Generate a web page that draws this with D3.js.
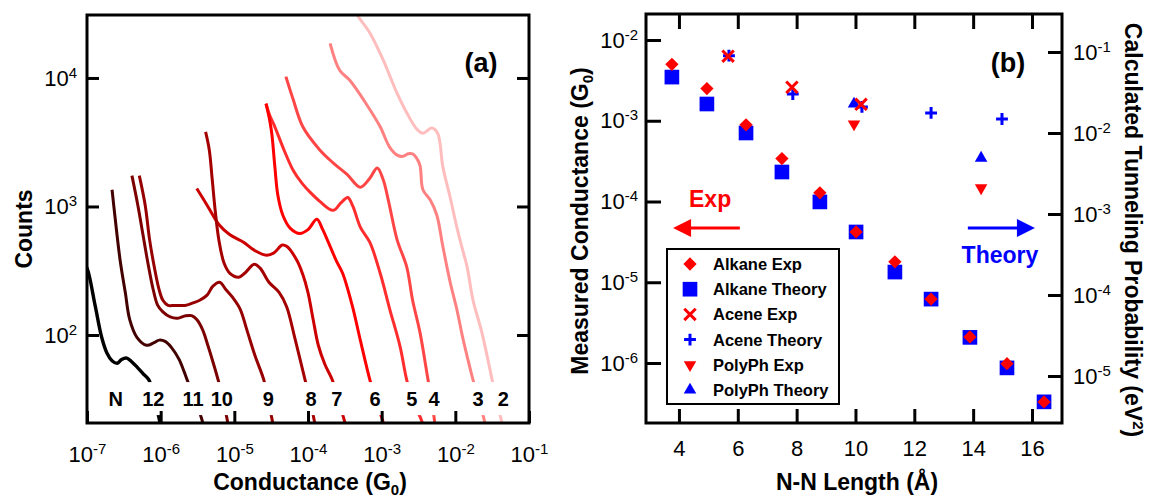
<!DOCTYPE html>
<html><head><meta charset="utf-8">
<script src="https://cdn.jsdelivr.net/npm/d3@7"></script>
<style>
body{margin:0;background:#fff;}
svg text{font-family:"Liberation Sans",Arial,Helvetica,sans-serif;}
</style></head><body>
<svg id="chart" width="1153" height="498"></svg>
<script>
// ---------- Panel (a): conductance histograms, points are [log10(G/G0), log10(counts)] ----------
const C12 = [[-7.05,2.56],[-7.00,2.52],[-6.89,2.23],[-6.80,1.98],[-6.73,1.86],[-6.66,1.80],[-6.59,1.78],[-6.53,1.81],[-6.46,1.82],[-6.39,1.79],[-6.32,1.75],[-6.24,1.70],[-6.16,1.65],[-6.08,1.49],[-6.01,1.32],[-5.97,1.18]];
const C11 = [[-6.66,3.13],[-6.62,2.92],[-6.55,2.58],[-6.48,2.33],[-6.42,2.12],[-6.32,1.98],[-6.19,1.92],[-6.09,1.94],[-6.02,1.96],[-5.94,1.95],[-5.85,1.90],[-5.75,1.81],[-5.64,1.65],[-5.53,1.49],[-5.43,1.32],[-5.39,1.18]];
const C10 = [[-6.39,3.24],[-6.31,3.01],[-6.24,2.78],[-6.17,2.55],[-6.10,2.35],[-6.04,2.23],[-5.97,2.18],[-5.87,2.14],[-5.77,2.13],[-5.66,2.15],[-5.58,2.15],[-5.51,2.12],[-5.43,2.04],[-5.36,1.92],[-5.29,1.79],[-5.22,1.65],[-5.15,1.49],[-5.09,1.32],[-5.05,1.18]];
const C9  = [[-6.29,3.24],[-6.21,3.01],[-6.15,2.74],[-6.08,2.51],[-6.02,2.35],[-5.97,2.27],[-5.90,2.23],[-5.81,2.23],[-5.67,2.23],[-5.56,2.25],[-5.47,2.27],[-5.37,2.31],[-5.29,2.38],[-5.20,2.41],[-5.11,2.35],[-5.02,2.29],[-4.92,2.20],[-4.83,2.04],[-4.72,1.84],[-4.60,1.65],[-4.54,1.49],[-4.48,1.32],[-4.43,1.18]];
const C8  = [[-5.39,3.58],[-5.34,3.44],[-5.30,3.21],[-5.26,2.97],[-5.21,2.74],[-5.14,2.56],[-5.06,2.48],[-4.94,2.45],[-4.86,2.48],[-4.73,2.55],[-4.65,2.52],[-4.53,2.41],[-4.39,2.33],[-4.29,2.22],[-4.18,1.98],[-4.04,1.65],[-3.97,1.49],[-3.91,1.32],[-3.86,1.18]];
const C7  = [[-5.51,3.14],[-5.37,3.01],[-5.21,2.86],[-5.06,2.78],[-4.87,2.72],[-4.73,2.66],[-4.56,2.62],[-4.46,2.64],[-4.35,2.70],[-4.29,2.69],[-4.15,2.58],[-4.07,2.47],[-4.00,2.33],[-3.93,2.12],[-3.86,1.92],[-3.77,1.77],[-3.67,1.65],[-3.59,1.49],[-3.50,1.32],[-3.46,1.18]];
const C6  = [[-4.57,3.80],[-4.52,3.67],[-4.49,3.56],[-4.45,3.31],[-4.41,3.09],[-4.34,2.93],[-4.24,2.83],[-4.11,2.79],[-4.00,2.82],[-3.88,2.90],[-3.80,2.82],[-3.70,2.69],[-3.61,2.57],[-3.53,2.48],[-3.40,2.23],[-3.29,1.96],[-3.16,1.65],[-3.08,1.49],[-2.98,1.32],[-2.94,1.18]];
const C5  = [[-4.57,3.80],[-4.52,3.71],[-4.45,3.62],[-4.34,3.46],[-4.20,3.28],[-4.08,3.18],[-3.97,3.11],[-3.84,3.04],[-3.66,2.97],[-3.55,3.03],[-3.46,3.07],[-3.39,3.00],[-3.29,2.84],[-3.16,2.72],[-3.02,2.48],[-2.89,2.20],[-2.75,1.91],[-2.66,1.65],[-2.58,1.49],[-2.45,1.32],[-2.41,1.18]];
const C4  = [[-4.30,4.01],[-4.20,3.83],[-4.07,3.62],[-3.84,3.44],[-3.66,3.34],[-3.47,3.25],[-3.29,3.15],[-3.16,3.22],[-3.06,3.30],[-2.98,3.21],[-2.91,3.05],[-2.79,2.74],[-2.66,2.53],[-2.58,2.27],[-2.48,2.02],[-2.37,1.65],[-2.32,1.49],[-2.28,1.32],[-2.25,1.18]];
const C3  = [[-3.70,4.27],[-3.57,4.06],[-3.43,3.98],[-3.20,3.79],[-3.02,3.62],[-2.89,3.46],[-2.79,3.40],[-2.71,3.39],[-2.64,3.41],[-2.58,3.41],[-2.53,3.38],[-2.48,3.32],[-2.44,3.13],[-2.34,3.05],[-2.25,2.93],[-2.17,2.69],[-2.07,2.41],[-1.98,2.20],[-1.90,1.98],[-1.83,1.81],[-1.76,1.65],[-1.68,1.49],[-1.60,1.32],[-1.56,1.18]];
const C2  = [[-3.38,4.55],[-3.32,4.48],[-3.16,4.35],[-2.98,4.14],[-2.79,3.88],[-2.66,3.73],[-2.52,3.60],[-2.44,3.57],[-2.32,3.61],[-2.24,3.57],[-2.17,3.31],[-2.07,3.07],[-1.98,2.84],[-1.90,2.66],[-1.84,2.53],[-1.76,2.27],[-1.64,2.02],[-1.50,1.65],[-1.44,1.49],[-1.37,1.32],[-1.33,1.18]];
const curveColors = ["#000000","#420000","#7c0000","#960000","#a50000","#cc0000","#ff0000","#ff2d2d","#ff4646","#ff8080","#ffbdbd"];
const curveLabels = ["N","12","11","10","9","8","7","6","5","4","3","2"];
const labelLogG   = [-6.61,-6.10,-5.56,-5.17,-4.54,-3.96,-3.61,-3.09,-2.59,-2.29,-1.69,-1.35];
const labelCounts = 31.8;
const xTicksA = [1e-7,1e-6,1e-5,1e-4,1e-3,1e-2,1e-1];
const yTicksA = [1e2,1e3,1e4];

// ---------- Panel (b) ----------
const alkaneLen    = [3.76,4.95,6.28,7.50,8.79,10.02,11.34,12.57,13.89,15.15,16.41];
const alkaneExp    = [5.0e-3,2.5e-3,8.9e-4,3.4e-4,1.28e-4,4.2e-5,1.79e-5,6.2e-6,2.1e-6,9.8e-7,3.3e-7];
const alkaneTheory = [4.9e-2,2.28e-2,1.0e-2,3.3e-3,1.41e-3,6.0e-4,1.92e-4,8.9e-5,3.0e-5,1.26e-5,4.8e-6];
const aceneExpLen  = [5.67,7.84,10.19];
const aceneExp     = [6.3e-3,2.6e-3,1.6e-3];
const aceneThLen   = [5.70,7.87,10.22,12.57,14.98];
const aceneTheory  = [9.0e-2,3.03e-2,2.1e-2,1.77e-2,1.49e-2];
const polyLen      = [9.95,14.27];
const polyExp      = [9.1e-4,1.47e-4];
const polyTheory   = [2.28e-2,4.9e-3];
const xTicksB = [4,6,8,10,12,14,16];
const yTicksBL = [1e-2,1e-3,1e-4,1e-5,1e-6];
const yTicksBR = [1e-1,1e-2,1e-3,1e-4,1e-5];
const legendLabels = ["Alkane Exp","Alkane Theory","Acene Exp","Acene Theory","PolyPh Exp","PolyPh Theory"];

const RED="#ff0000", BLUE="#0000ff";
const FONT='"Liberation Sans",Arial,Helvetica,sans-serif';
const TICKFS=22;
const svg = d3.select("#chart");

function sci(g, size){
  g.attr("font-size",size).attr("font-family",FONT);
  g.selectAll(".tick text").each(function(d){
    const t=d3.select(this), e=Math.round(Math.log10(d));
    t.text(null).attr("fill","#000");
    t.append("tspan").text("10");
    t.append("tspan").attr("dy",-8).attr("font-size",15).text(e);
  });
}
function styleTicks(g){
  g.select(".domain").remove();
  g.selectAll(".tick line").attr("stroke","#000").attr("stroke-width",3);
}

// ===== Panel A =====
const A={l:87,r:529,t:15,b:423};
const xA=d3.scaleLog().domain([1e-7,1e-1]).range([A.l,A.r]);
const yA=d3.scaleLog().domain([Math.pow(10,1.315),Math.pow(10,4.49)]).range([A.b,A.t]);
svg.append("defs").append("clipPath").attr("id","clipA").append("rect")
  .attr("x",A.l).attr("y",A.t).attr("width",A.r-A.l).attr("height",A.b-A.t);
const gA=svg.append("g");
const curves=[C12,C11,C10,C9,C8,C7,C6,C5,C4,C3,C2];
const lineA=d3.line().x(d=>xA(Math.pow(10,d[0]))).y(d=>yA(Math.pow(10,d[1]))).curve(d3.curveCatmullRom.alpha(0.5));
gA.append("g").attr("clip-path","url(#clipA)")
  .selectAll("path").data(curves.map((c,i)=>({c,i})).reverse()).join("path")
  .attr("d",d=>lineA(d.c)).attr("fill","none")
  .attr("stroke",d=>curveColors[d.i]).attr("stroke-width",d=>d.i===0?3.4:3)
  .attr("stroke-linejoin","round").attr("stroke-linecap","butt");
// white band behind the size labels
gA.append("rect").attr("x",A.l+2).attr("width",A.r-A.l-4)
  .attr("y",yA(43)).attr("height",yA(23.8)-yA(43)).attr("fill","#fff");
gA.append("g").selectAll("text").data(curveLabels).join("text")
  .attr("x",(d,i)=>xA(Math.pow(10,labelLogG[i]))).attr("y",yA(labelCounts)).attr("dy","0.36em")
  .attr("text-anchor","middle").attr("font-weight","bold").attr("font-size",20).text(d=>d);

const axAB=gA.append("g").attr("transform",`translate(0,${A.b})`)
  .call(d3.axisBottom(xA).tickValues(xTicksA).tickSizeInner(-12).tickSizeOuter(0).tickPadding(23));
styleTicks(axAB); sci(axAB,TICKFS);
const axAL=gA.append("g").attr("transform",`translate(${A.l},0)`)
  .call(d3.axisLeft(yA).tickValues(yTicksA).tickSizeInner(-12).tickSizeOuter(0).tickPadding(10));
styleTicks(axAL); sci(axAL,TICKFS);
const axAR=gA.append("g").attr("transform",`translate(${A.r},0)`)
  .call(d3.axisRight(yA).tickValues(yTicksA).tickSizeInner(-12).tickSizeOuter(0).tickFormat(""));
styleTicks(axAR);
gA.append("rect").attr("x",A.l).attr("y",A.t).attr("width",A.r-A.l).attr("height",A.b-A.t)
  .attr("fill","none").attr("stroke","#000").attr("stroke-width",3);
gA.append("text").attr("transform","translate(32,229) rotate(-90)").attr("text-anchor","middle")
  .attr("font-weight","bold").attr("font-size",23).text("Counts");
const tA=gA.append("text").attr("x",310).attr("y",490).attr("text-anchor","middle").attr("font-weight","bold").attr("font-size",23);
tA.append("tspan").text("Conductance (G");
tA.append("tspan").attr("dy",5).attr("font-size",15).text("0");
tA.append("tspan").attr("dy",-5).text(")");
gA.append("text").attr("x",481).attr("y",72).attr("text-anchor","middle").attr("font-weight","bold").attr("font-size",27).text("(a)");

// ===== Panel B =====
const B={l:646,r:1062,t:14,b:423};
const xB=d3.scaleLinear().domain([2.88,17.02]).range([B.l,B.r]);
const yL=d3.scaleLog().domain([Math.pow(10,-6.743),Math.pow(10,-1.678)]).range([B.b,B.t]);
const yR=d3.scaleLog().domain([Math.pow(10,-5.58),Math.pow(10,-0.531)]).range([B.b,B.t]);
const gB=svg.append("g");

const axBB=gB.append("g").attr("transform",`translate(0,${B.b})`)
  .call(d3.axisBottom(xB).tickValues(xTicksB).tickSizeInner(-14).tickSizeOuter(0).tickPadding(17));
styleTicks(axBB); axBB.attr("font-size",TICKFS).attr("font-family",FONT); axBB.selectAll(".tick text").attr("fill","#000");
const axBT=gB.append("g").attr("transform",`translate(0,${B.t})`)
  .call(d3.axisTop(xB).tickValues(xTicksB).tickSizeInner(-15).tickSizeOuter(0).tickFormat(""));
styleTicks(axBT);
const axBL=gB.append("g").attr("transform",`translate(${B.l},0)`)
  .call(d3.axisLeft(yL).tickValues(yTicksBL).tickSizeInner(-15).tickSizeOuter(0).tickPadding(8));
styleTicks(axBL); sci(axBL,TICKFS);
const axBR=gB.append("g").attr("transform",`translate(${B.r},0)`)
  .call(d3.axisRight(yR).tickValues(yTicksBR).tickSizeInner(-14).tickSizeOuter(0).tickPadding(11));
styleTicks(axBR); sci(axBR,TICKFS);
gB.append("rect").attr("x",B.l).attr("y",B.t).attr("width",B.r-B.l).attr("height",B.b-B.t)
  .attr("fill","none").attr("stroke","#000").attr("stroke-width",3);

// symbols
const symDiamond={draw(c,s){const r=Math.sqrt(s/2);c.moveTo(0,-r);c.lineTo(r,0);c.lineTo(0,r);c.lineTo(-r,0);c.closePath();}};
const symTimes={draw(c,s){const r=Math.sqrt(s)/2;c.moveTo(-r,-r);c.lineTo(r,r);c.moveTo(r,-r);c.lineTo(-r,r);}};
const symPlus={draw(c,s){const r=Math.sqrt(s)/2;c.moveTo(-r,0);c.lineTo(r,0);c.moveTo(0,-r);c.lineTo(0,r);}};
const mk={
  diamond:{p:d3.symbol(symDiamond,88)(),fill:RED,stroke:"none",rot:0},
  square:{p:d3.symbol(d3.symbolSquare,215)(),fill:BLUE,stroke:"none",rot:0},
  times:{p:d3.symbol(symTimes,130)(),fill:"none",stroke:RED,rot:0},
  plus:{p:d3.symbol(symPlus,140)(),fill:"none",stroke:BLUE,rot:0},
  down:{p:d3.symbol(d3.symbolTriangle,68)(),fill:RED,stroke:"none",rot:180},
  up:{p:d3.symbol(d3.symbolTriangle,68)(),fill:BLUE,stroke:"none",rot:0}
};
function drawSeries(lens,vals,scale,m){
  gB.append("g").selectAll("path").data(lens.map((x,i)=>({x,y:vals[i]}))).join("path")
    .attr("transform",d=>`translate(${xB(d.x)},${scale(d.y)}) rotate(${m.rot})`)
    .attr("d",m.p).attr("fill",m.fill).attr("stroke",m.stroke).attr("stroke-width",3);
}
drawSeries(alkaneLen,alkaneTheory,yR,mk.square);
drawSeries(alkaneLen,alkaneExp,yL,mk.diamond);
drawSeries(aceneThLen,aceneTheory,yR,mk.plus);
drawSeries(polyLen,polyTheory,yR,mk.up);
drawSeries(polyLen,polyExp,yL,mk.down);
drawSeries(aceneExpLen,aceneExp,yL,mk.times);

// annotations (Exp / Theory arrows)
const arrowY=yL(4.7e-5);
function arrow(x0,x1,color){
  const a=xB(x0), b=xB(x1), dir=Math.sign(b-a), hl=18, hw=9;
  gB.append("line").attr("x1",a).attr("x2",b-dir*hl+dir*2).attr("y1",arrowY).attr("y2",arrowY)
    .attr("stroke",color).attr("stroke-width",3);
  gB.append("path").attr("d",`M${b},${arrowY}L${b-dir*hl},${arrowY-hw}L${b-dir*hl},${arrowY+hw}Z`).attr("fill",color);
}
arrow(6.07,3.80,RED);
arrow(13.82,16.10,BLUE);
gB.append("text").attr("x",xB(5.06)).attr("y",yL(8.6e-5)).attr("text-anchor","middle")
  .attr("font-weight","bold").attr("font-size",23).attr("fill",RED).text("Exp");
gB.append("text").attr("x",xB(14.91)).attr("y",yL(1.74e-5)).attr("text-anchor","middle")
  .attr("font-weight","bold").attr("font-size",23).attr("fill",BLUE).text("Theory");
gB.append("text").attr("x",1008).attr("y",72).attr("text-anchor","middle").attr("font-weight","bold").attr("font-size",27).text("(b)");

// legend
const lg=gB.append("g");
lg.append("rect").attr("x",667).attr("y",249).attr("width",172).attr("height",155)
  .attr("fill","#fff").attr("stroke","#000").attr("stroke-width",2);
const legMk=[mk.diamond,mk.square,mk.times,mk.plus,mk.down,mk.up];
legendLabels.forEach((lab,i)=>{
  const cy=264+i*25.2, m=legMk[i];
  lg.append("path").attr("transform",`translate(690,${cy}) rotate(${m.rot})`).attr("d",m.p)
    .attr("fill",m.fill).attr("stroke",m.stroke).attr("stroke-width",3);
  lg.append("text").attr("x",713).attr("y",cy).attr("dy","0.36em").attr("font-weight","bold").attr("font-size",16.5).text(lab);
});

// axis titles
const tBL=gB.append("text").attr("transform","translate(588,221) rotate(-90)").attr("text-anchor","middle")
  .attr("font-weight","bold").attr("font-size",23);
tBL.append("tspan").text("Measured Conductance (G");
tBL.append("tspan").attr("dy",5).attr("font-size",15).text("0");
tBL.append("tspan").attr("dy",-5).text(")");
const tBR=gB.append("text").attr("transform","translate(1125,230) rotate(90)").attr("text-anchor","middle")
  .attr("font-weight","bold").attr("font-size",23);
tBR.append("tspan").text("Calculated Tunneling Probability (eV");
tBR.append("tspan").attr("dy",-8).attr("font-size",15).text("2");
tBR.append("tspan").attr("dy",8).text(")");
gB.append("text").attr("x",857).attr("y",490).attr("text-anchor","middle").attr("font-weight","bold").attr("font-size",23).text("N-N Length (Å)");
</script></body></html>
